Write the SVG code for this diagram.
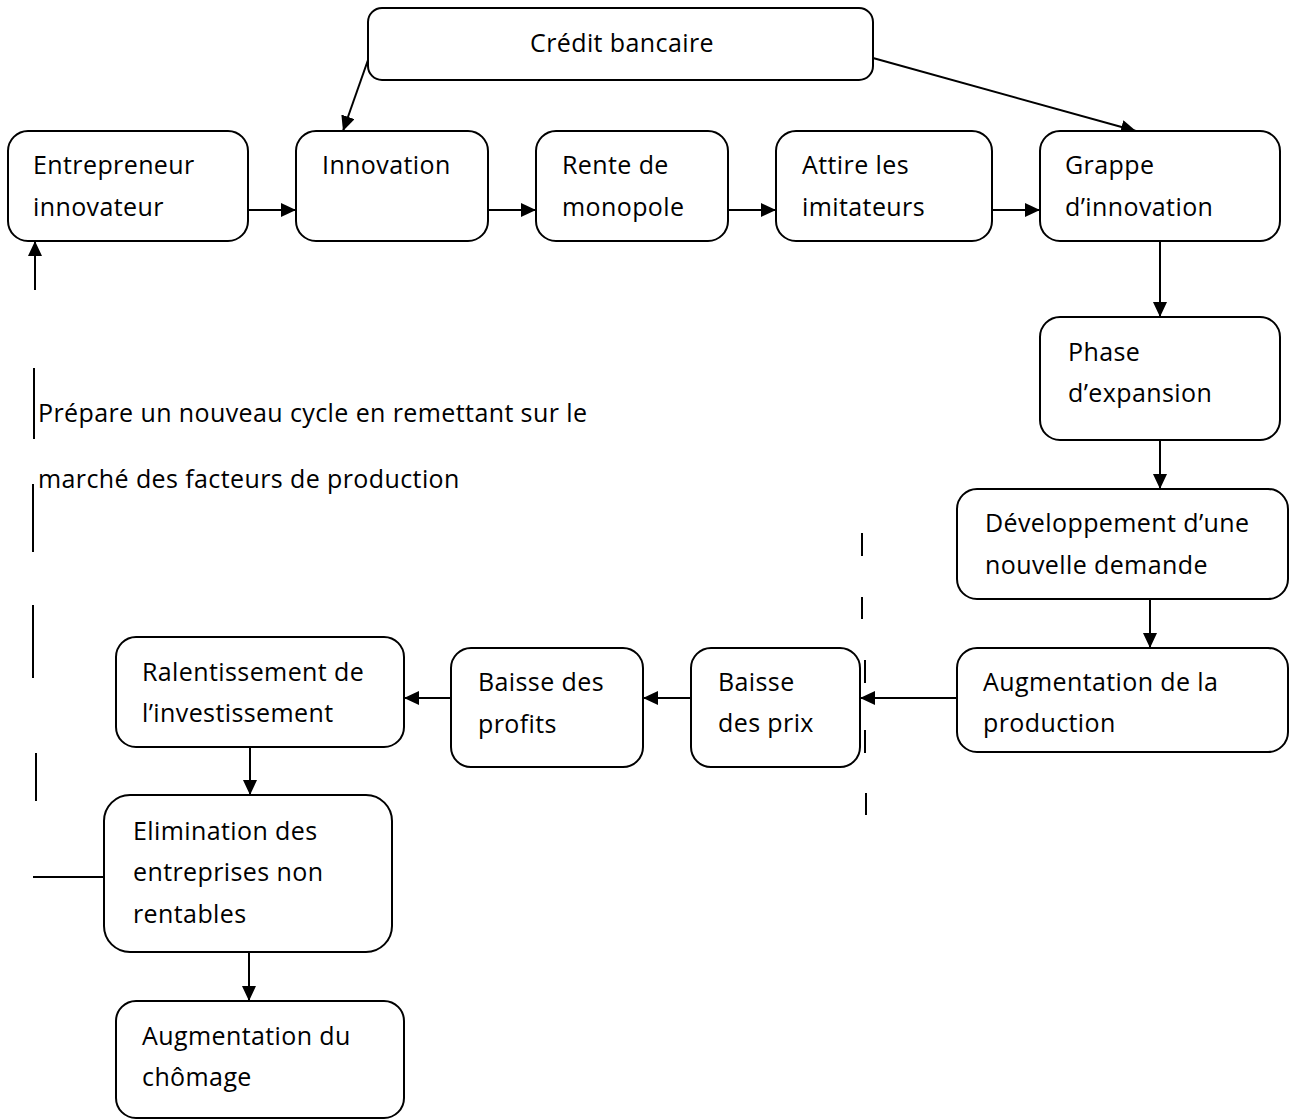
<svg xmlns="http://www.w3.org/2000/svg" width="1289" height="1119" viewBox="0 0 1289 1119">
<style>
.box{fill:#fff;stroke:#000;stroke-width:2}
.t{font-family:"Open Sans",Lato,"Liberation Sans",sans-serif;font-size:25px;letter-spacing:0.4px;fill:#000;font-variant-ligatures:none}
.c{stroke:#000;stroke-width:2;fill:none}
.arr{marker-end:url(#ah)}
</style>
<defs>
<marker id="ah" markerUnits="userSpaceOnUse" markerWidth="16" markerHeight="14" refX="15" refY="7" orient="auto">
<path d="M0,0 L15,7 L0,14 z" fill="#000"/>
</marker>
</defs>
<rect width="1289" height="1119" fill="#fff"/>
<g id="connectors">
<line class="c arr" x1="368" y1="60" x2="343" y2="131"/>
<line class="c arr" x1="873" y1="58" x2="1136" y2="131"/>
<line class="c arr" x1="248" y1="210" x2="296" y2="210"/>
<line class="c arr" x1="488" y1="210" x2="536" y2="210"/>
<line class="c arr" x1="728" y1="210" x2="776" y2="210"/>
<line class="c arr" x1="992" y1="210" x2="1040" y2="210"/>
<line class="c arr" x1="1160" y1="241" x2="1160" y2="317"/>
<line class="c arr" x1="1160" y1="440" x2="1160" y2="489"/>
<line class="c arr" x1="1150" y1="599" x2="1150" y2="648"/>
<line class="c arr" x1="957" y1="698" x2="860" y2="698"/>
<line class="c arr" x1="691" y1="698" x2="643" y2="698"/>
<line class="c arr" x1="451" y1="698" x2="404" y2="698"/>
<line class="c arr" x1="250" y1="747" x2="250" y2="795"/>
<line class="c arr" x1="249" y1="952" x2="249" y2="1001"/>
<line class="c" x1="104" y1="877" x2="33" y2="877"/>
<line class="c arr" x1="35" y1="290" x2="35" y2="241"/>
<line class="c" x1="34" y1="368" x2="34" y2="439"/>
<line class="c" x1="33" y1="484" x2="33" y2="552"/>
<line class="c" x1="33" y1="605" x2="33" y2="678"/>
<line class="c" x1="36" y1="753" x2="36" y2="801"/>
<line class="c" x1="862" y1="533" x2="862" y2="556"/>
<line class="c" x1="862" y1="597" x2="862" y2="619"/>
<line class="c" x1="865" y1="660" x2="865" y2="683"/>
<line class="c" x1="865" y1="730" x2="865" y2="753"/>
<line class="c" x1="866" y1="793" x2="866" y2="815"/>
</g>
<g id="credit"><rect class="box" x="368" y="8" width="505" height="72" rx="14"/><text class="t" x="530" y="52">Crédit bancaire</text></g>
<g id="entrepreneur"><rect class="box" x="8" y="131" width="240" height="110" rx="20"/><text class="t" x="33" y="174">Entrepreneur</text><text class="t" x="33" y="216">innovateur</text></g>
<g id="innovation"><rect class="box" x="296" y="131" width="192" height="110" rx="20"/><text class="t" x="322" y="174">Innovation</text></g>
<g id="rente"><rect class="box" x="536" y="131" width="192" height="110" rx="20"/><text class="t" x="562" y="174">Rente de</text><text class="t" x="562" y="216">monopole</text></g>
<g id="attire"><rect class="box" x="776" y="131" width="216" height="110" rx="20"/><text class="t" x="802" y="174">Attire les</text><text class="t" x="802" y="216">imitateurs</text></g>
<g id="grappe"><rect class="box" x="1040" y="131" width="240" height="110" rx="20"/><text class="t" x="1065" y="174">Grappe</text><text class="t" x="1065" y="216">d’innovation</text></g>
<g id="phase"><rect class="box" x="1040" y="317" width="240" height="123" rx="20"/><text class="t" x="1068" y="361">Phase</text><text class="t" x="1068" y="402">d’expansion</text></g>
<g id="developpement"><rect class="box" x="957" y="489" width="331" height="110" rx="20"/><text class="t" x="985" y="532">Développement d’une</text><text class="t" x="985" y="574">nouvelle demande</text></g>
<g id="augprod"><rect class="box" x="957" y="648" width="331" height="104" rx="20"/><text class="t" x="983" y="691">Augmentation de la</text><text class="t" x="983" y="732">production</text></g>
<g id="baisseprix"><rect class="box" x="691" y="648" width="169" height="119" rx="20"/><text class="t" x="718" y="691">Baisse</text><text class="t" x="718" y="732">des prix</text></g>
<g id="baisseprofits"><rect class="box" x="451" y="648" width="192" height="119" rx="20"/><text class="t" x="478" y="691">Baisse des</text><text class="t" x="478" y="733">profits</text></g>
<g id="ralentissement"><rect class="box" x="116" y="637" width="288" height="110" rx="20"/><text class="t" x="142" y="681">Ralentissement de</text><text class="t" x="142" y="722">l’investissement</text></g>
<g id="elimination"><rect class="box" x="104" y="795" width="288" height="157" rx="26"/><text class="t" x="133" y="840">Elimination des</text><text class="t" x="133" y="881">entreprises non</text><text class="t" x="133" y="923">rentables</text></g>
<g id="chomage"><rect class="box" x="116" y="1001" width="288" height="117" rx="20"/><text class="t" x="142" y="1045">Augmentation du</text><text class="t" x="142" y="1086">chômage</text></g>
<g id="note"><text class="t" x="38" y="422">Prépare un nouveau cycle en remettant sur le</text><text class="t" x="38" y="488">marché des facteurs de production</text></g>
</svg>
